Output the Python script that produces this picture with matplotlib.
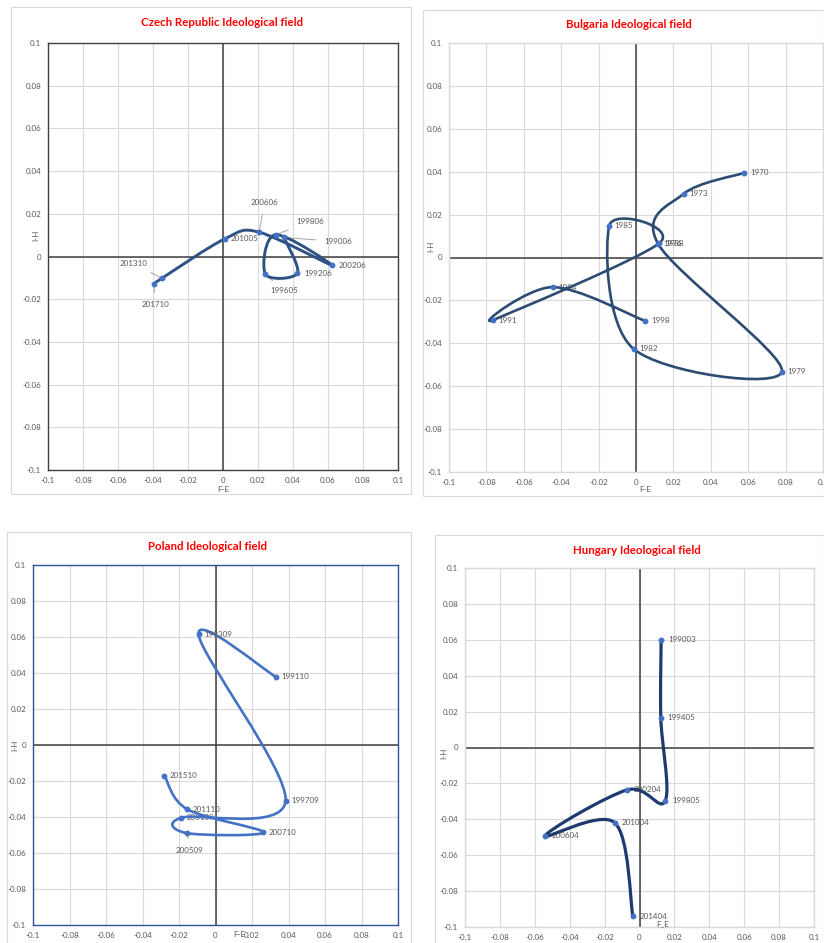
import numpy as np
import matplotlib
matplotlib.use("Agg")
import matplotlib.pyplot as plt
from matplotlib.path import Path
from matplotlib.patches import PathPatch, Rectangle

plt.rcParams['font.family'] = ['Lato', 'DejaVu Sans']

# Czech Republic
cz_labels = ['199006', '199206', '199605', '199806', '200206', '200606', '201005', '201310', '201710']
cz_x = [0.0349, 0.0425, 0.0242, 0.0300, 0.0623, 0.0206, 0.0013, -0.0349, -0.0394]
cz_y = [0.0089, -0.0078, -0.0083, 0.0102, -0.0042, 0.0114, 0.0084, -0.0102, -0.0130]

# Bulgaria
bg_labels = ['1970', '1973', '1976', '1979', '1982', '1985', '1988', '1991', '1994', '1998']
bg_x = [0.0580, 0.0255, 0.0118, 0.0780, -0.0013, -0.0143, 0.0125, -0.0766, -0.0445, 0.0050]
bg_y = [0.0395, 0.0297, 0.0064, -0.0532, -0.0426, 0.0149, 0.0067, -0.0292, -0.0138, -0.0296]

# Poland
pl_labels = ['199110', '199309', '199709', '200109', '200509', '200710', '201110', '201510']
pl_x = [0.0332, -0.0093, 0.0384, -0.0188, -0.0155, 0.0263, -0.0155, -0.0280]
pl_y = [0.0378, 0.0615, -0.0311, -0.0404, -0.0490, -0.0485, -0.0357, -0.0170]

# Hungary
hu_labels = ['199003', '199405', '199805', '200204', '200604', '201004', '201404']
hu_x = [0.0124, 0.0122, 0.0147, -0.0071, -0.0542, -0.0142, -0.0038]
hu_y = [0.0601, 0.0167, -0.0298, -0.0236, -0.0493, -0.0419, -0.0940]

ticks = np.round(np.arange(-0.1, 0.1001, 0.02), 2)
tick_labels = ['0' if t == 0 else f'{t:g}' for t in ticks]

W, H = 824, 943
fig = plt.figure(figsize=(W / 100, H / 100), dpi=100)
fig.patch.set_facecolor('white')

GRAY = '#595959'


def frame(l, t, r, b):
    fig.patches.append(Rectangle((l / W, 1 - b / H), (r - l) / W, (b - t) / H,
                                 transform=fig.transFigure, fill=False,
                                 edgecolor='#D9D9D9', lw=0.8))


def make_axes(l, t, r, b, spine_col):
    ax = fig.add_axes([l / W, 1 - b / H, (r - l) / W, (b - t) / H])
    ax.set_xlim(-0.1, 0.1)
    ax.set_ylim(-0.1, 0.1)
    ax.set_xticks(ticks)
    ax.set_yticks(ticks)
    ax.set_xticklabels(tick_labels)
    ax.set_yticklabels(tick_labels)
    ax.tick_params(length=0, labelsize=5.8, labelcolor=GRAY, pad=5)
    ax.grid(True, color='#D9D9D9', lw=0.8)
    ax.set_axisbelow(True)
    for s in ax.spines.values():
        s.set_color(spine_col)
        s.set_linewidth(1.0)
    ax.axhline(0, color='#404040', lw=1.1, zorder=1)
    ax.axvline(0, color='#404040', lw=1.1, zorder=1)
    return ax


def smooth(ax, xs, ys, col, lw):
    # excel-like smoothed scatter line, bezier through the points
    p = np.column_stack([xs, ys])
    n = len(p)
    verts = [p[0]]
    codes = [Path.MOVETO]
    for i in range(n - 1):
        p0 = p[i - 1] if i > 0 else p[i]
        p3 = p[i + 2] if i + 2 < n else p[i + 1]
        c1 = p[i] + (p[i + 1] - p0) / 6
        c2 = p[i + 1] - (p3 - p[i]) / 6
        verts += [c1, c2, p[i + 1]]
        codes += [Path.CURVE4] * 3
    ax.add_patch(PathPatch(Path(verts, codes), fill=False, edgecolor=col,
                           lw=lw, capstyle='round', joinstyle='round', zorder=3))
    ax.plot(xs, ys, 'o', color='#4472C4', ms=3.2, zorder=4)


def title(x, y, txt):
    fig.text(x / W, 1 - y / H, txt, color='#FF0000', fontsize=8.3,
             fontweight='bold', ha='center', va='center')


# ---- Czech Republic
frame(11, 7, 411, 494)
ax1 = make_axes(48, 43, 398, 470, '#404040')
title(222, 23, 'Czech Republic Ideological field')
smooth(ax1, cz_x, cz_y, '#2E5283', 2.1)
cz_label_pos = [(0.0657, 0.0070), (0.0543, -0.0078), (0.0347, -0.0161), (0.0499, 0.0163),
                (0.0737, -0.0042), (0.0238, 0.0253), (0.0124, 0.0084), (-0.0510, -0.0034),
                (-0.0387, -0.0223)]
leader = ['199006', '199806', '199605', '200606', '201310', '201710']
for lab, x, y, pos in zip(cz_labels, cz_x, cz_y, cz_label_pos):
    if lab in leader:
        ax1.annotate(lab, (x, y), xytext=pos, fontsize=5.8, color=GRAY,
                     ha='center', va='center', zorder=2,
                     arrowprops=dict(arrowstyle='-', color='#A6A6A6', lw=0.7,
                                     shrinkA=4, shrinkB=1))
    else:
        ax1.text(pos[0], pos[1], lab, fontsize=5.8, color=GRAY,
                 ha='center', va='center', zorder=2)
ax1.text(0.5, -0.045, 'F-E', transform=ax1.transAxes, fontsize=5.8,
         color=GRAY, ha='center', va='center')
ax1.text(-0.035, 0.55, 'I-H', transform=ax1.transAxes, fontsize=5.8,
         color=GRAY, ha='center', va='center', rotation=90)

# ---- Bulgaria
frame(423, 10, 824, 496)
ax2 = make_axes(449, 43, 823, 472, '#D9D9D9')
title(629, 25, 'Bulgaria Ideological field')
for lab, x, y in zip(bg_labels, bg_x, bg_y):
    ax2.annotate(lab, (x, y), xytext=(4, 0), textcoords='offset points',
                 fontsize=5.8, color=GRAY, va='center', zorder=2)
smooth(ax2, bg_x, bg_y, '#2D4B73', 1.9)
ax2.text(0.525, -0.04, 'F-E', transform=ax2.transAxes, fontsize=5.8,
         color=GRAY, ha='center', va='center')
ax2.text(-0.048, 0.525, 'I-H', transform=ax2.transAxes, fontsize=5.8,
         color=GRAY, ha='center', va='center', rotation=90)

# ---- Poland
frame(7, 532, 411, 945)
ax3 = make_axes(33, 565, 398, 925, '#2F5597')
title(208, 547, 'Poland Ideological field')
smooth(ax3, pl_x, pl_y, '#4472C4', 1.9)
for lab, x, y in zip(pl_labels, pl_x, pl_y):
    if lab == '200509':
        ax3.annotate(lab, (x, y), xytext=(x + 0.0015, y - 0.0095), fontsize=5.8,
                     color=GRAY, ha='center', va='center', zorder=2,
                     arrowprops=dict(arrowstyle='-', color='#A6A6A6', lw=0.7,
                                     shrinkA=4, shrinkB=2))
    else:
        ax3.annotate(lab, (x, y), xytext=(4, 0), textcoords='offset points',
                     fontsize=5.8, color=GRAY, va='center', zorder=5 if lab != '200109' else 2)
ax3.text(0.565, -0.027, 'F-E', transform=ax3.transAxes, fontsize=5.8,
         color=GRAY, ha='center', va='center')
ax3.text(-0.05, 0.5, 'I-H', transform=ax3.transAxes, fontsize=5.8,
         color=GRAY, ha='center', va='center', rotation=90)

# ---- Hungary
frame(435, 535, 824, 945)
ax4 = make_axes(465, 568, 814, 927, '#D9D9D9')
title(637, 550, 'Hungary Ideological field')
for lab, x, y in zip(hu_labels, hu_x, hu_y):
    ax4.annotate(lab, (x, y), xytext=(5, 0), textcoords='offset points',
                 fontsize=5.8, color=GRAY, va='center', zorder=2)
smooth(ax4, hu_x, hu_y, '#1F3A6E', 2.3)
ax4.text(0.565, 0.008, 'F_E', transform=ax4.transAxes, fontsize=5.8,
         color=GRAY, ha='center', va='center')
ax4.text(-0.06, 0.485, 'I-H', transform=ax4.transAxes, fontsize=5.8,
         color=GRAY, ha='center', va='center', rotation=90)

fig.savefig('out.png', dpi=100, facecolor='white')
